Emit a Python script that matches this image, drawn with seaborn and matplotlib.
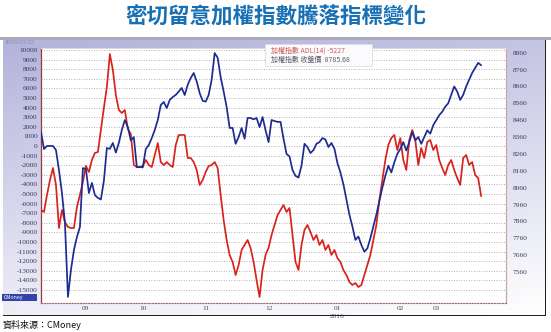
import numpy as np
import pandas as pd
import matplotlib
matplotlib.use("Agg")
import matplotlib.pyplot as plt
from matplotlib.patches import Rectangle
import seaborn as sns

sns.set_theme(style="white")
plt.rcParams['font.family'] = ['Noto Sans CJK TC', 'DejaVu Sans']

# Trading-day index (0 = first session shown) and ADL(14) readings
adl_day = list(range(148))
adl_value = [
    -6670, -6875, -5100, -3540, -2290, -4060, -8540, -6670, -7920, -8440,
    -8540, -8540, -6350, -5100, -3750, -2080, -2710, -1460, -730, -625,
    1670, 3960, 6150, 9580, 7920, 5310, 3750, 3440, 3750, 1770,
    1250, -1980, -2190, -2190, -2080, -1460, -1980, -2190, -940, 310,
    -1670, -1980, -1670, -1980, -2190, 100, 1150, 1150, 1150, -1250,
    -1250, -1670, -2500, -4060, -3540, -2710, -2080, -1980, -1670, -2290,
    -5100, -7710, -9790, -11350, -12080, -13440, -12400, -10830, -10310, -9790,
    -10620, -12080, -13960, -15730, -12920, -11350, -10620, -9270, -8230, -7190,
    -6670, -6150, -6875, -6460, -9270, -12080, -12920, -10310, -8750, -8230,
    -8960, -9790, -9270, -10310, -9790, -10830, -10310, -11350, -10830, -11670,
    -12080, -12920, -13440, -14170, -14480, -14270, -14690, -14480, -13440, -12400,
    -11350, -9790, -8230, -5630, -3540, -1460, 100, 830, 1150, -420,
    830, -1460, -2500, 625, 1670, 625, -1980, -210, -1250, 420,
    625, -420, 100, -1460, -2290, -3020, -1980, -1460, -2500, -3330,
    -4060, -1250, -940, -1980, -1670, -3020, -3330, -5227,
]

# TAIEX closing level on the same sessions
idx_day = list(range(148))
idx_close = [
    8390, 8289, 8307, 8307, 8307, 8283, 8164, 8028, 7850, 7412,
    7572, 7690, 7767, 7827, 8176, 8170, 8028, 8088, 8016, 7999,
    7990, 8100, 8295, 8290, 8325, 8268, 8325, 8402, 8461, 8419,
    8340, 8360, 8182, 8182, 8180, 8290, 8313, 8354, 8402, 8461,
    8550, 8568, 8532, 8580, 8597, 8610, 8630, 8651, 8609, 8670,
    8710, 8740, 8690, 8620, 8575, 8570, 8610, 8700, 8858, 8830,
    8716, 8630, 8538, 8414, 8414, 8320, 8360, 8414, 8350, 8473,
    8473, 8465, 8473, 8419, 8479, 8400, 8330, 8461, 8455, 8450,
    8450, 8350, 8260, 8245, 8164, 8130, 8120, 8190, 8320, 8300,
    8265, 8283, 8320, 8330, 8354, 8345, 8301, 8325, 8290, 8206,
    8150, 8080, 7990, 7900, 7830, 7750, 7770, 7720, 7680, 7700,
    7760, 7830, 7900, 7980, 8060, 8130, 8190, 8150, 8210, 8260,
    8290, 8330, 8280, 8330, 8390, 8340, 8360, 8320, 8360, 8400,
    8380, 8430, 8460, 8490, 8510, 8540, 8560, 8610, 8660, 8630,
    8580, 8610, 8660, 8700, 8740, 8770, 8800, 8785.68,
]

month_labels = ["09", "10", "11", "12", "01", "02", "03"]
month_day = [15, 34, 55, 76, 99, 120, 132]
left_ticks = list(range(10000, -16000, -1000))
right_ticks = list(range(7560, 8960, 100))

adl_df = pd.DataFrame({"day": adl_day, "ADL": adl_value})
idx_df = pd.DataFrame({"day": idx_day, "close": idx_close})

W, H = 551, 332
fig = plt.figure(figsize=(W / 100, H / 100), dpi=100)
fig.patch.set_facecolor("white")


def fx(px):
    return px / W


def fy(py):
    return 1 - py / H


# Lavender panel behind the chart
bg = fig.add_axes([fx(3), fy(315), fx(545) - fx(3), fy(38) - fy(315)])
ny, nx = 120, 200
v = np.linspace(0, 1, ny)[:, None]          # 1 at top
h = np.linspace(0, 1, nx)[None, :]          # 1 at right
t = np.clip(0.78 * v + 0.22 * (1 - h), 0, 1)
top_c = np.array([0.70, 0.70, 0.86])
bot_c = np.array([1.0, 1.0, 1.0])
grad = bot_c[None, None, :] * (1 - t[..., None]) + top_c[None, None, :] * t[..., None]
bg.imshow(grad, aspect="auto", extent=[0, 1, 0, 1], origin="lower")
bg.set_axis_off()

# Frame edges of the panel
fig.patches.append(Rectangle((fx(0), fy(40)), fx(551), 3 / H, transform=fig.transFigure,
                             facecolor="#a9a9b9", edgecolor="none"))
fig.patches.append(Rectangle((fx(3), fy(316)), fx(542), 1.2 / H, transform=fig.transFigure,
                             facecolor="#202020", edgecolor="none"))
fig.patches.append(Rectangle((fx(545), fy(316)), 1.2 / W, (316 - 40) / H, transform=fig.transFigure,
                             facecolor="#202020", edgecolor="none"))

# Plot area
ax = fig.add_axes([fx(41), fy(303), fx(506) - fx(41), fy(48) - fy(303)])
ax.set_facecolor("white")
sns.lineplot(data=adl_df, x="day", y="ADL", ax=ax, color="#d8231c", lw=1.25)
ax.set_xlim(0, 155.3)
ax.set_ylim(-16354, 10208)
ax.set_yticks(left_ticks)
ax.set_yticklabels([str(t) for t in left_ticks])
ax.grid(axis="y", linestyle=(0, (1, 2)), color="#9a9aa0", lw=0.6)
ax.set_xticks(month_day)
ax.set_xticklabels(month_labels)
ax.tick_params(axis="y", labelsize=5.3, colors="#3a3a60", length=0, pad=2.5)
ax.tick_params(axis="x", labelsize=5.3, colors="#505050", length=2, width=0.5,
               direction="out", pad=0.5)
for lab in ax.get_yticklabels() + ax.get_xticklabels():
    lab.set_family(["Liberation Serif", "DejaVu Serif"])
ax.set_xlabel("")
ax.set_ylabel("")
ax.spines["left"].set_color("#9a3b3b")
ax.spines["left"].set_linewidth(0.9)
ax.spines["right"].set_color("#c9a5a5")
ax.spines["right"].set_linewidth(0.9)
ax.spines["top"].set_color("#e6d2d2")
ax.spines["top"].set_linewidth(0.7)
ax.spines["bottom"].set_color("#a06a6a")
ax.spines["bottom"].set_linestyle((0, (1, 1.5)))
ax.spines["bottom"].set_linewidth(0.8)

ax2 = ax.twinx()
sns.lineplot(data=idx_df, x="day", y="close", ax=ax2, color="#1e2b8f", lw=1.25)
ax2.set_ylim(7376, 8888)
ax2.set_yticks(right_ticks)
ax2.set_yticklabels([str(t) for t in right_ticks])
ax2.tick_params(axis="y", labelsize=5.3, colors="#3a3a60", length=0, pad=5)
for lab in ax2.get_yticklabels():
    lab.set_family(["Liberation Serif", "DejaVu Serif"])
ax2.set_ylabel("")
for s in ax2.spines.values():
    s.set_visible(False)

# Year label under January
ax.text(month_day[4], -0.045, "2016", transform=ax.get_xaxis_transform(),
        ha="center", va="top", fontsize=5.3, color="#505050",
        family=["Liberation Serif", "DejaVu Serif"])

# Legend box
fig.patches.append(Rectangle((fx(265), fy(66)), (372 - 265) / W, 22 / H, transform=fig.transFigure,
                             facecolor="#fbfbfd", edgecolor="#e0dce8", lw=0.6, zorder=5))
fig.text(fx(271), fy(51), "加權指數 ADL(14) -5227", fontsize=5, color="#d05a5a",
         va="center", ha="left", zorder=6)
fig.text(fx(271), fy(60), "加權指數 收盤價  8785.68", fontsize=5, color="#5a5a6a",
         va="center", ha="left", zorder=6)

# Date stamp and small logo
fig.text(fx(5), fy(43), "2016/03/22", fontsize=4.8, color="#8a8ab0", va="center", ha="left",
         family=["Liberation Serif", "DejaVu Serif"])
fig.patches.append(Rectangle((fx(2), fy(301)), 35 / W, 7 / H, transform=fig.transFigure,
                             facecolor="#3443a8", edgecolor="none"))
fig.text(fx(4), fy(297.5), "CMoney", fontsize=3.8, color="white", va="center", ha="left")

# Title and source
fig.text(0.5, fy(17), "密切留意加權指數騰落指標變化", fontsize=15.5, fontweight="bold",
         color="#176fb4", ha="center", va="center")
fig.text(fx(3), fy(325), "資料來源：CMoney", fontsize=6.5, color="#111111", ha="left", va="center")

fig.savefig("out.png", dpi=100)
